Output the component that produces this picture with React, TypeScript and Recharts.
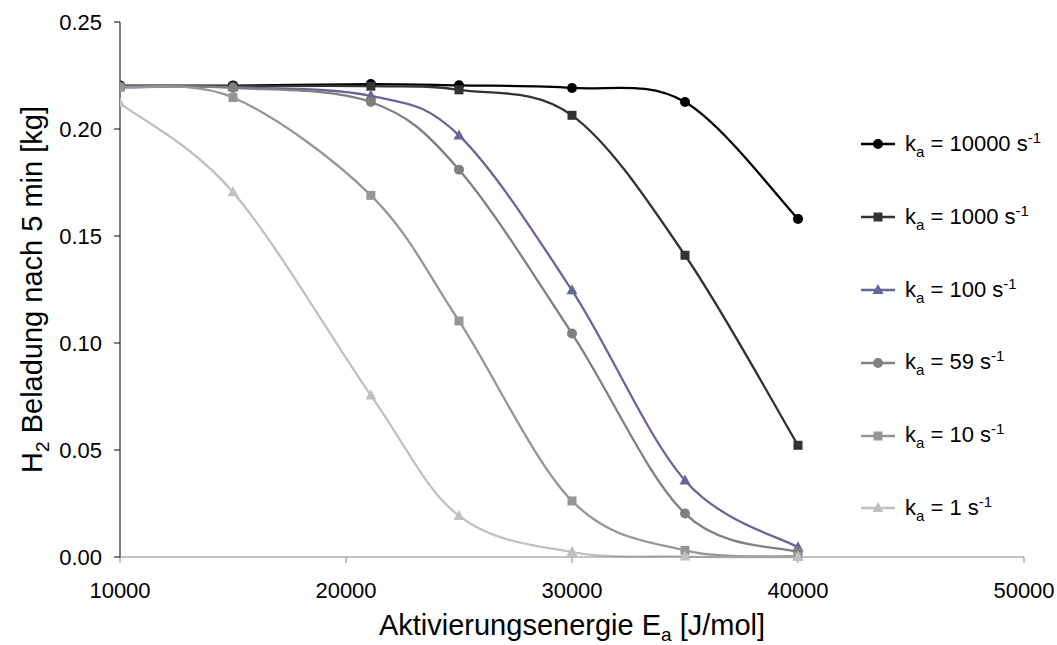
import React from "react";
import { LineChart, Line, XAxis, YAxis, Legend } from "recharts";

// Aktivierungsenergie [J/mol]
const energie = [10000, 15000, 21100, 25000, 30000, 35000, 40000];

// H2-Beladung nach 5 min [kg] je Stoßfaktor k_a
const k10000 = [0.2203, 0.2203, 0.221, 0.2204, 0.2192, 0.2126, 0.158];
const k1000 = [0.22, 0.22, 0.22, 0.2183, 0.2064, 0.141, 0.0522];
const k100 = [0.22, 0.2195, 0.2155, 0.197, 0.1246, 0.0358, 0.0045];
const k59 = [0.2195, 0.2192, 0.2126, 0.181, 0.1044, 0.0203, 0.0023];
const k10 = [0.2195, 0.2147, 0.169, 0.1103, 0.0262, 0.0031, 0.0003];
const k1 = [0.212, 0.1705, 0.0755, 0.0192, 0.0023, 0.0002, 0.0];

const xTicks = [10000, 20000, 30000, 40000, 50000];
const yTicks = [0, 0.05, 0.1, 0.15, 0.2, 0.25];

const FONT = "'Liberation Sans', Arial, sans-serif";

type Shape = "circle" | "square" | "triangle";

const serien: { ka: string; werte: number[]; farbe: string; form: Shape }[] = [
  { ka: "10000", werte: k10000, farbe: "#000000", form: "circle" },
  { ka: "1000", werte: k1000, farbe: "#333333", form: "square" },
  { ka: "100", werte: k100, farbe: "#666699", form: "triangle" },
  { ka: "59", werte: k59, farbe: "#808080", form: "circle" },
  { ka: "10", werte: k10, farbe: "#969696", form: "square" },
  { ka: "1", werte: k1, farbe: "#C0C0C0", form: "triangle" },
];

// Excel-artige Glättung (Catmull-Rom als Bezier)
function excelSmooth(context: any) {
  let pts: number[][] = [];
  return {
    areaStart() {},
    areaEnd() {},
    lineStart() {
      pts = [];
    },
    point(x: number, y: number) {
      pts.push([+x, +y]);
    },
    lineEnd() {
      if (!pts.length) return;
      context.moveTo(pts[0][0], pts[0][1]);
      for (let i = 0; i < pts.length - 1; i++) {
        const p0 = pts[i - 1] || pts[i];
        const p1 = pts[i];
        const p2 = pts[i + 1];
        const p3 = pts[i + 2] || p2;
        context.bezierCurveTo(
          p1[0] + (p2[0] - p0[0]) / 6,
          p1[1] + (p2[1] - p0[1]) / 6,
          p2[0] - (p3[0] - p1[0]) / 6,
          p2[1] - (p3[1] - p1[1]) / 6,
          p2[0],
          p2[1]
        );
      }
    },
  };
}

function Marker({ form, cx, cy, farbe }: { form: Shape; cx: number; cy: number; farbe: string }) {
  if (cx == null || cy == null) return null;
  if (form === "circle") return <circle cx={cx} cy={cy} r={5} fill={farbe} />;
  if (form === "square") return <rect x={cx - 4.5} y={cy - 4.5} width={9} height={9} fill={farbe} />;
  return <polygon points={`${cx},${cy - 6} ${cx - 5.5},${cy + 4} ${cx + 5.5},${cy + 4}`} fill={farbe} />;
}

function YTitle(props: any) {
  const vb = props.viewBox;
  const cx = vb.x + 42;
  const cy = vb.y + vb.height / 2;
  return (
    <text
      x={cx}
      y={cy}
      transform={`rotate(-90, ${cx}, ${cy})`}
      textAnchor="middle"
      fontSize={29}
      fontFamily={FONT}
      fill="#000"
    >
      H
      <tspan dy={7} fontSize={19}>
        2
      </tspan>
      <tspan dy={-7}> Beladung nach 5 min [kg]</tspan>
    </text>
  );
}

function XTitle(props: any) {
  const vb = props.viewBox;
  const cx = vb.x + vb.width / 2;
  const cy = vb.y + 78;
  return (
    <text x={cx} y={cy} textAnchor="middle" fontSize={29} fontFamily={FONT} fill="#000">
      Aktivierungsenergie E
      <tspan dy={6} fontSize={19}>
        a
      </tspan>
      <tspan dy={-6}> [J/mol]</tspan>
    </text>
  );
}

function Legende() {
  return (
    <div style={{ fontFamily: FONT, fontSize: 22, color: "#000" }}>
      {serien.map((s) => (
        <div key={s.ka} style={{ display: "flex", alignItems: "center", height: 72.8 }}>
          <svg width={34} height={14} style={{ display: "block" }}>
            <line x1={0} y1={7} x2={34} y2={7} stroke={s.farbe} strokeWidth={2.3} />
            <Marker form={s.form} cx={17} cy={7} farbe={s.farbe} />
          </svg>
          <span style={{ marginLeft: 10, lineHeight: 1, whiteSpace: "nowrap" }}>
            k<sub style={{ fontSize: 15 }}>a</sub> = {s.ka} s<sup style={{ fontSize: 15 }}>-1</sup>
          </span>
        </div>
      ))}
    </div>
  );
}

export default function App() {
  return (
    <div style={{ position: "absolute", left: 0, top: 0, width: 1057, height: 645, background: "#fff" }}>
      <LineChart width={1057} height={645} margin={{ top: 22, right: 33, bottom: 0, left: 0 }}>
        <XAxis
          dataKey="x"
          type="number"
          domain={[10000, 50000]}
          ticks={xTicks}
          allowDataOverflow
          height={88}
          stroke="#868686"
          tickSize={6}
          tickMargin={19}
          tick={{ fill: "#000", fontSize: 22, fontFamily: FONT }}
          label={(p: any) => <XTitle {...p} />}
        />
        <YAxis
          type="number"
          domain={[0, 0.25]}
          ticks={yTicks}
          width={120}
          stroke="#000"
          tickSize={6}
          tickMargin={12}
          tickFormatter={(v: number) => v.toFixed(2)}
          tick={{ fill: "#000", fontSize: 22, fontFamily: FONT }}
          label={(p: any) => <YTitle {...p} />}
        />
        <Legend
          layout="vertical"
          align="center"
          verticalAlign="middle"
          content={() => <Legende />}
          wrapperStyle={{ left: 861, top: 108, width: 196, height: 440 }}
        />
        {serien.map((s) => (
          <Line
            key={s.ka}
            data={energie.map((x, i) => ({ x, y: s.werte[i] }))}
            dataKey="y"
            name={`k_a = ${s.ka} s^-1`}
            type={excelSmooth as any}
            stroke={s.farbe}
            strokeWidth={2.3}
            isAnimationActive={false}
            activeDot={false}
            dot={(p: any) => (
              <Marker key={`d-${s.ka}-${p.index}`} form={s.form} cx={p.cx} cy={p.cy} farbe={s.farbe} />
            )}
          />
        ))}
      </LineChart>
    </div>
  );
}
